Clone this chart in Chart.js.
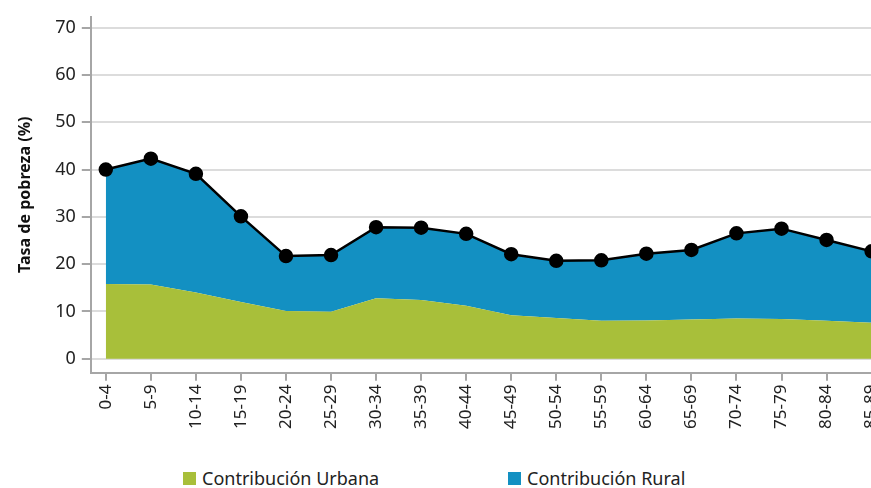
<!DOCTYPE html>
<html>
<head>
<meta charset="utf-8">
<script src="https://cdn.jsdelivr.net/npm/chart.js@4.4.0/dist/chart.umd.min.js"></script>
<style>
  html, body { margin: 0; padding: 0; background: #fff; overflow: hidden; }
  #wrap { position: relative; width: 871px; height: 488px; overflow: hidden; }
  #box { position: absolute; left: 0; top: 0; width: 896px; height: 433px; }
  .legend { position: absolute; top: 466px; font-family: "Noto Sans", sans-serif; font-size: 18px; color: #222; }
  .legend span.sw { display: inline-block; width: 13px; height: 13px; margin-right: 6px; vertical-align: 0px; }
</style>
</head>
<body>
<div id="wrap">
  <div id="box"><canvas id="myChart"></canvas></div>
  <div class="legend" style="left:183px"><span class="sw" style="background:#a8bf3a"></span>Contribución Urbana</div>
  <div class="legend" style="left:508px"><span class="sw" style="background:#1390c2"></span>Contribución Rural</div>
</div>
<script>
// age groups
const categories = ["0-4","5-9","10-14","15-19","20-24","25-29","30-34","35-39","40-44",
  "45-49","50-54","55-59","60-64","65-69","70-74","75-79","80-84","85-89"];
// urban contribution (green area top)
const urbana = [15.8, 15.7, 14.0, 12.0, 10.1, 9.9, 12.8, 12.4, 11.2, 9.2, 8.6, 8.0, 8.1, 8.3, 8.5, 8.4, 8.0, 7.6];
// total poverty rate (black line, top of blue area)
const total = [40.0, 42.3, 39.1, 30.1, 21.7, 21.9, 27.8, 27.7, 26.4, 22.1, 20.7, 20.8, 22.2, 23.0, 26.5, 27.5, 25.1, 22.7];
const yTicks = [0, 10, 20, 30, 40, 50, 60, 70];

const toPts = arr => arr.map((v, i) => ({ x: i, y: v }));

const ctx = document.getElementById("myChart").getContext("2d");
const myChart = new Chart(ctx, {
  type: "line",
  data: {
    datasets: [
      {
        label: "Contribución Urbana",
        data: toPts(urbana),
        borderWidth: 0,
        borderColor: "rgba(0,0,0,0)",
        backgroundColor: "#a8bf3a",
        pointRadius: 0,
        fill: "origin",
        tension: 0
      },
      {
        label: "Contribución Rural",
        data: toPts(total),
        borderColor: "#000",
        borderWidth: 2.5,
        backgroundColor: "#1390c2",
        pointRadius: 6,
        pointBackgroundColor: "#000",
        pointBorderColor: "#000",
        fill: { target: 0 },
        tension: 0
      }
    ]
  },
  options: {
    responsive: true,
    maintainAspectRatio: false,
    animation: false,
    layout: { padding: { left: 16, top: 0, right: 0, bottom: 0 } },
    plugins: {
      legend: { display: false },
      tooltip: { enabled: false }
    },
    scales: {
      x: {
        type: "linear",
        min: -0.333,
        max: 17,
        afterBuildTicks: function (axis) {
          axis.ticks = categories.map((c, i) => ({ value: i }));
        },
        ticks: {
          autoSkip: false,
          maxRotation: 90,
          minRotation: 90,
          padding: 4,
          color: "#222",
          font: { family: "Noto Sans", size: 17 },
          callback: function (value) { return categories[value]; }
        },
        grid: {
          drawOnChartArea: false,
          tickLength: 8,
          tickColor: "#a6a6a6",
          lineWidth: 2
        },
        border: { color: "#a6a6a6", width: 2 }
      },
      y: {
        min: -2.95,
        max: 72.3,
        afterBuildTicks: function (axis) {
          axis.ticks = yTicks.map(v => ({ value: v }));
        },
        ticks: {
          padding: 6,
          color: "#222",
          font: { family: "Noto Sans", size: 18 }
        },
        grid: {
          color: "#dcdcdc",
          lineWidth: 2,
          tickLength: 9,
          tickColor: "#a6a6a6"
        },
        border: { color: "#a6a6a6", width: 2 },
        title: {
          display: true,
          text: "Tasa de pobreza (%)",
          color: "#111",
          font: { family: "Noto Sans", size: 16, weight: "bold" },
          padding: { top: 0, bottom: 14 }
        }
      }
    }
  }
});
</script>
</body>
</html>
